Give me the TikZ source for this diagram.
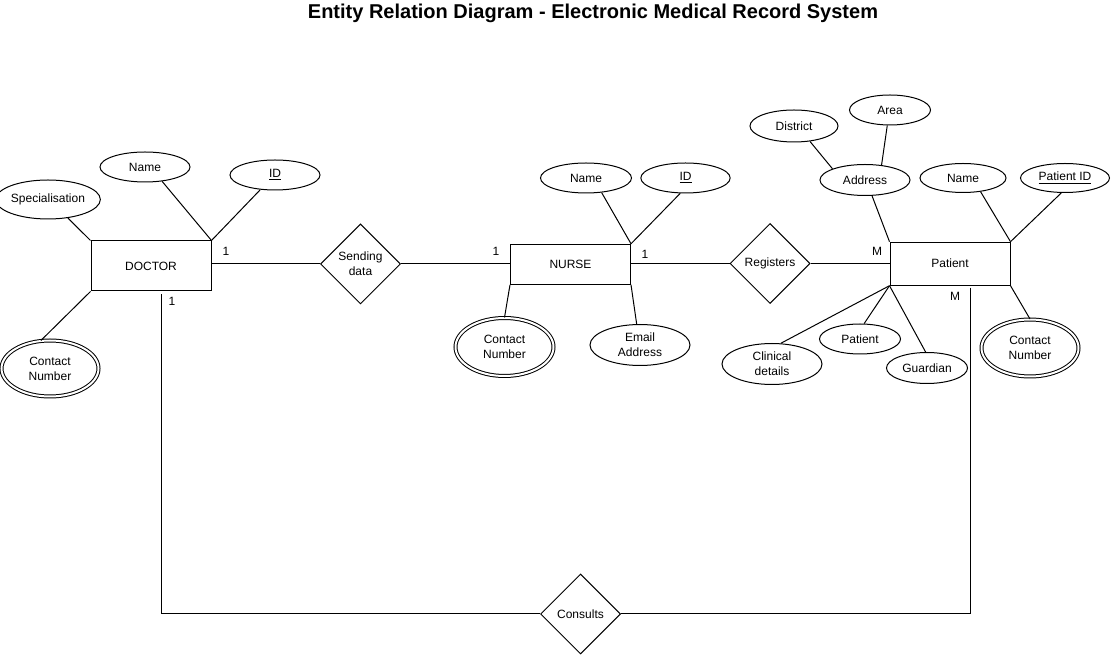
\documentclass[tikz,border=0pt]{standalone}
\usepackage{fontspec}
\setmainfont{Liberation Sans}
\usetikzlibrary{shapes.geometric}
\tikzset{
  base/.style={line width=0.75pt, font=\fontsize{9}{11.2}\selectfont, align=center, inner sep=0pt},
  entity/.style={base, draw, rectangle},
  attr/.style={base, draw, ellipse},
  multi/.style={base, draw, ellipse, double, double distance=1.5pt},
  rel/.style={base, draw, diamond, minimum width=60pt, minimum height=60pt},
  card/.style={font=\fontsize{9}{11}\selectfont, inner sep=0pt},
  link/.style={line width=0.75pt}
}
\begin{document}
\begin{tikzpicture}[x=0.75pt,y=-0.75pt]
\useasboundingbox (0,0) rectangle (1111,655);
\node[font=\fontsize{15}{18}\selectfont\bfseries] (title) at (593,13) {Entity Relation Diagram - Electronic Medical Record System};

% Doctor
\node[entity, minimum width=90pt, minimum height=37.5pt] (doctor) at (151,266) {DOCTOR};
\node[attr, minimum width=71.25pt, minimum height=29.25pt] (spec) at (48,199.5) {Specialisation};
\node[attr, minimum width=67.5pt, minimum height=22.5pt] (dname) at (145,167) {Name};
\node[attr, minimum width=67.5pt, minimum height=22.5pt] (did) at (275,175) {\underline{ID}};
\node[multi, minimum width=72.75pt, minimum height=42pt] (dcontact) at (50,368.5) {Contact\\Number};
\node[rel] (send) at (360.5,264) {Sending\\data};

% Nurse
\node[entity, minimum width=90pt, minimum height=30pt] (nurse) at (570.5,264.3) {NURSE};
\node[attr, minimum width=68.25pt, minimum height=22.5pt] (nname) at (586,178) {Name};
\node[attr, minimum width=67pt, minimum height=22.5pt] (nid) at (685.5,178) {\underline{ID}};
\node[multi, minimum width=73.5pt, minimum height=43.5pt] (ncontact) at (504.5,347) {Contact\\Number};
\node[attr, minimum width=75pt, minimum height=30.75pt] (nemail) at (640,345) {Email\\Address};
\node[rel] (reg) at (770,263.5) {Registers};

% Patient
\node[entity, minimum width=90pt, minimum height=32.25pt] (patient) at (950,263.7) {Patient};
\node[attr, minimum width=67.5pt, minimum height=23.25pt] (addr) at (865,180) {Address};
\node[attr, minimum width=66pt, minimum height=24pt] (district) at (794,126) {District};
\node[attr, minimum width=60.75pt, minimum height=22.5pt] (area) at (890,110) {Area};
\node[attr, minimum width=64.5pt, minimum height=21.75pt] (pname) at (963,178) {Name};
\node[attr, minimum width=66.75pt, minimum height=21.75pt] (pid) at (1065,178) {\underline{Patient ID}};
\node[multi, minimum width=72.75pt, minimum height=42.75pt] (pcontact) at (1030,348) {Contact\\Number};
\node[attr, minimum width=75pt, minimum height=30.75pt] (clinical) at (772,364) {Clinical\\details};
\node[attr, minimum width=60.75pt, minimum height=22.5pt] (psmall) at (860,339) {Patient};
\node[attr, minimum width=60.75pt, minimum height=23.25pt] (guardian) at (927,368) {Guardian};

\node[rel] (consults) at (580.5,614) {Consults};

% cardinalities
\node[card] (c1) at (226,251) {1};
\node[card] (c2) at (172,301) {1};
\node[card] (c3) at (496,251) {1};
\node[card] (c4) at (645,254) {1};
\node[card] (c5) at (877,251) {M};
\node[card] (c6) at (955,296) {M};

% doctor links
\draw[link] (doctor.north west) -- (spec.-43);
\draw[link] (doctor.north east) -- (dname.-40);
\draw[link] (doctor.north east) -- (did.-135);
\draw[link] (doctor.south west) -- (dcontact.108);
\draw[link] (doctor.east |- send) -- (send);
\draw[link] (send) -- (send -| nurse.west);

% nurse links
\draw[link] (nurse.north east) -- (nname.-43);
\draw[link] (nurse.north east) -- (nid.-109);
\draw[link] (nurse.south west) -- (ncontact.90);
\draw[link] (nurse.south east) -- (nemail.99);
\draw[link] (nurse.east |- reg) -- (reg);
\draw[link] (reg) -- (reg -| patient.west);

% patient links
\draw[link] (patient.north west) -- (addr.-66);
\draw[link] (addr.161) -- (district.-44);
\draw[link] (addr.42) -- (area.-100);
\draw[link] (patient.north east) -- (pname.-38);
\draw[link] (patient.north east) -- (pid.-104);
\draw[link] (patient.south east) -- (pcontact.90);
\draw[link] (patient.south west) -- (clinical.67);
\draw[link] (patient.south west) -- (psmall.75);
\draw[link] (patient.south west) -- (guardian.95);

% consults routes
\coordinate (dd) at ([xshift=7.5pt,yshift=-2.25pt]doctor.south);
\coordinate (pp) at ([xshift=15pt,yshift=-1.5pt]patient.south);
\draw[link] (dd) |- (consults);
\draw[link] (pp) |- (consults);
\end{tikzpicture}
\end{document}
